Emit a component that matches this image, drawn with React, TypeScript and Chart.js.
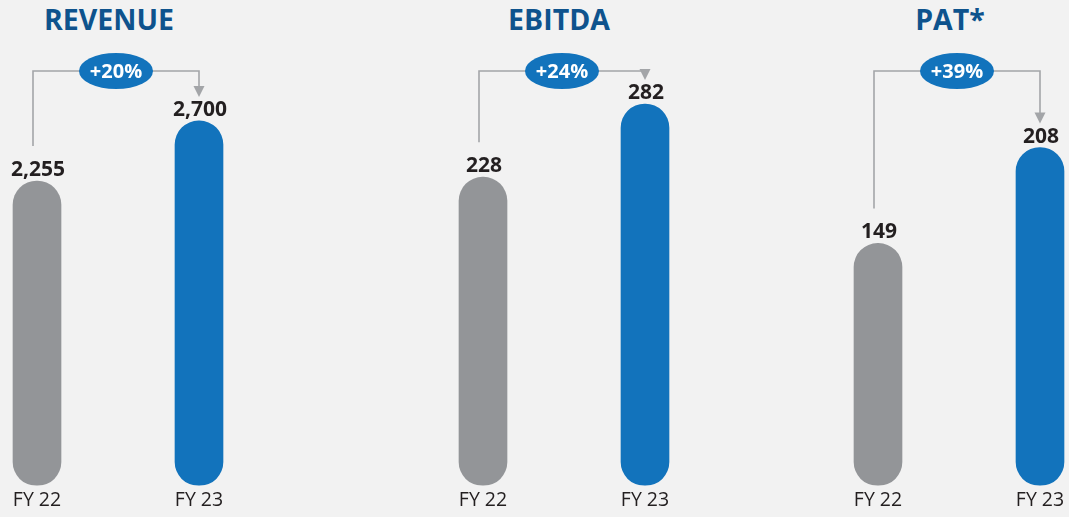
import React, { useEffect, useRef } from "react";
import { Chart, registerables } from "chart.js";

Chart.register(...registerables);

// ---- data ----
const panelTitles = ["REVENUE", "EBITDA", "PAT*"];
const categories = ["FY 22", "FY 23"];
const revenueValues = [2255, 2700];
const ebitdaValues = [228, 282];
const patValues = [149, 208];
const growthLabels = ["+20%", "+24%", "+39%"];
const axisMax = [3225, 322, 268];

const panelValues = [revenueValues, ebitdaValues, patValues];

// ---- styles ----
const BG = "#f2f2f2";
const GRAY = "#939598";
const BLUE = "#1273bc";
const LINE = "#a3a5a8";
const TEXT = "#231f20";
const TITLE = "#0e538d";
const FONT = "'Open Sans', 'DejaVu Sans', sans-serif";

const chartLefts = [-44, 402, 797];
const titleCenters = [109, 559, 950];

const connectorPlugin = {
  id: "connector",
  afterDatasetsDraw(chart: any) {
    const ctx = chart.ctx;
    const meta = chart.getDatasetMeta(0);
    const b0 = meta.data[0];
    const b1 = meta.data[1];
    const ds = chart.data.datasets[0];
    const growth = chart.options.plugins.connector.label;
    ctx.save();
    // value labels
    ctx.fillStyle = TEXT;
    ctx.font = `bold 21px ${FONT}`;
    ctx.textAlign = "center";
    ctx.textBaseline = "alphabetic";
    meta.data.forEach((bar: any, i: number) => {
      ctx.fillText(Number(ds.data[i]).toLocaleString("en-US"), bar.x + 1, bar.y - 5);
    });
    // connector
    const yTop = chart.chartArea.top + 21;
    const x0 = b0.x - 4;
    const tip = b1.y - 24;
    ctx.strokeStyle = LINE;
    ctx.lineWidth = 1.6;
    ctx.beginPath();
    ctx.moveTo(x0, b0.y - 35);
    ctx.lineTo(x0, yTop);
    ctx.lineTo(b1.x, yTop);
    ctx.lineTo(b1.x, tip - 10);
    ctx.stroke();
    ctx.fillStyle = LINE;
    ctx.beginPath();
    ctx.moveTo(b1.x - 5.5, tip - 11);
    ctx.lineTo(b1.x + 5.5, tip - 11);
    ctx.lineTo(b1.x, tip);
    ctx.closePath();
    ctx.fill();
    // badge
    const cx = (x0 + b1.x) / 2;
    ctx.fillStyle = BLUE;
    ctx.beginPath();
    ctx.ellipse(cx, yTop, 37, 18, 0, 0, Math.PI * 2);
    ctx.fill();
    ctx.fillStyle = "#ffffff";
    ctx.font = `bold 20px ${FONT}`;
    ctx.textBaseline = "middle";
    ctx.fillText(growth, cx, yTop + 1);
    ctx.restore();
  },
};

function Panel({ index }: { index: number }) {
  const ref = useRef<HTMLCanvasElement | null>(null);
  useEffect(() => {
    if (!ref.current) return;
    const chart = new Chart(ref.current, {
      type: "bar",
      data: {
        labels: categories,
        datasets: [
          {
            data: panelValues[index],
            backgroundColor: [GRAY, BLUE],
            borderRadius: 24,
            borderSkipped: false,
            barThickness: 48,
          },
        ],
      },
      options: {
        animation: false,
        responsive: false,
        maintainAspectRatio: false,
        devicePixelRatio: 1,
        layout: { padding: { top: 50, bottom: 2, left: 0, right: 0 } },
        plugins: {
          legend: { display: false },
          tooltip: { enabled: false },
          connector: { label: growthLabels[index] },
        } as any,
        scales: {
          x: {
            grid: { display: false, drawTicks: false },
            border: { display: false },
            ticks: { color: TEXT, font: { family: FONT, size: 19.5 }, padding: 3 },
          },
          y: { display: false, min: 0, max: axisMax[index] },
        },
      },
      plugins: [connectorPlugin],
    });
    return () => chart.destroy();
  }, [index]);
  return (
    <canvas
      ref={ref}
      width={324}
      height={517}
      style={{ position: "absolute", left: chartLefts[index], top: 0, width: 324, height: 517 }}
    />
  );
}

export default function App() {
  return (
    <div
      style={{
        position: "fixed",
        left: 0,
        top: 0,
        width: 1069,
        height: 517,
        background: BG,
        overflow: "hidden",
      }}
    >
      {panelTitles.map((t, i) => (
        <div
          key={"t" + i}
          style={{
            position: "absolute",
            left: titleCenters[i] - 100,
            width: 200,
            top: 5,
            lineHeight: "28px",
            textAlign: "center",
            fontFamily: FONT,
            fontWeight: 700,
            fontSize: 28.5,
            color: TITLE,
            whiteSpace: "nowrap",
          }}
        >
          {t}
        </div>
      ))}
      {panelTitles.map((_, i) => (
        <Panel key={i} index={i} />
      ))}
    </div>
  );
}
